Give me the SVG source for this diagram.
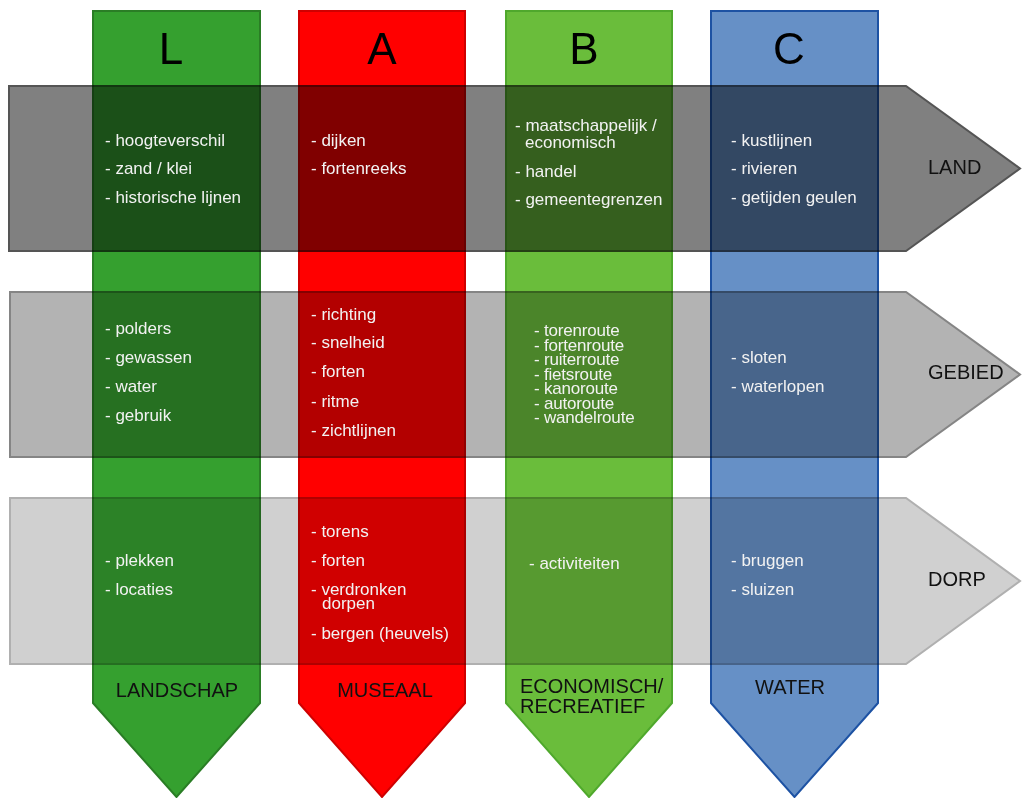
<svg xmlns="http://www.w3.org/2000/svg" width="1022" height="798" viewBox="0 0 1022 798">
<style>
.row{mix-blend-mode:multiply;stroke-width:2;stroke-linejoin:miter}
.col{stroke-width:2}
.t{font-family:"Liberation Sans",Arial,sans-serif;font-size:17px;fill:#f2f2f2}
.tt{font-family:"Liberation Sans",Arial,sans-serif;font-size:17px;fill:#f2f2f2;letter-spacing:-0.2px}
.lab{font-family:"Liberation Sans",Arial,sans-serif;font-size:20px;fill:#111}
.hd{font-family:"Liberation Sans",Arial,sans-serif;font-size:44px;fill:#000;text-anchor:middle}
</style>
<rect width="1022" height="798" fill="#ffffff"/>
<g id="col-L"><path class="col" d="M93,11 H260 V703 L176.5,797 L93,703 Z" fill="#35a02f" stroke="#2a7d25"/></g>
<g id="col-A"><path class="col" d="M299,11 H465 V703 L382,797 L299,703 Z" fill="#ff0000" stroke="#cf0000"/></g>
<g id="col-B"><path class="col" d="M506,11 H672 V703 L589,797 L506,703 Z" fill="#6abd3b" stroke="#4fa82c"/></g>
<g id="col-C"><path class="col" d="M711,11 H878 V703 L794.5,797 L711,703 Z" fill="#6690c6" stroke="#1d52a3"/></g>
<g id="row-LAND"><path class="row" d="M9,86 H906 L1020,168.5 L906,251 H9 Z" fill="#808080" stroke="#555555"/></g>
<g id="row-GEBIED"><path class="row" d="M10,292 H906 L1020,374.5 L906,457 H10 Z" fill="#b3b3b3" stroke="#858585"/></g>
<g id="row-DORP"><path class="row" d="M10,498 H906 L1020,581 L906,664 H10 Z" fill="#d0d0d0" stroke="#b0b0b0"/></g>
<g id="headers">
<text class="hd" x="171" y="64">L</text>
<text class="hd" x="382" y="64">A</text>
<text class="hd" x="584" y="64">B</text>
<text class="hd" x="789" y="64">C</text>
</g>
<g id="row-labels">
<text class="lab" x="928" y="174">LAND</text>
<text class="lab" x="928" y="379">GEBIED</text>
<text class="lab" x="928" y="586">DORP</text>
</g>
<g id="col-labels">
<text class="lab" x="177" y="697" text-anchor="middle">LANDSCHAP</text>
<text class="lab" x="385" y="697" text-anchor="middle">MUSEAAL</text>
<text class="lab" x="520" y="693">ECONOMISCH/<tspan x="520" dy="20">RECREATIEF</tspan></text>
<text class="lab" x="790" y="694" text-anchor="middle">WATER</text>
</g>
<g id="cell-L-LAND">
<text class="t" x="105" y="146">- hoogteverschil</text>
<text class="t" x="105" y="174">- zand / klei</text>
<text class="t" x="105" y="203">- historische lijnen</text>
</g>
<g id="cell-A-LAND">
<text class="t" x="311" y="146">- dijken</text>
<text class="t" x="311" y="174">- fortenreeks</text>
</g>
<g id="cell-B-LAND">
<text class="t" x="515" y="131">- maatschappelijk /<tspan x="525" dy="17">economisch</tspan></text>
<text class="t" x="515" y="177">- handel</text>
<text class="t" x="515" y="205">- gemeentegrenzen</text>
</g>
<g id="cell-C-LAND">
<text class="t" x="731" y="146">- kustlijnen</text>
<text class="t" x="731" y="174">- rivieren</text>
<text class="t" x="731" y="203">- getijden geulen</text>
</g>
<g id="cell-L-GEBIED">
<text class="t" x="105" y="334">- polders</text>
<text class="t" x="105" y="363">- gewassen</text>
<text class="t" x="105" y="392">- water</text>
<text class="t" x="105" y="421">- gebruik</text>
</g>
<g id="cell-A-GEBIED">
<text class="t" x="311" y="320">- richting</text>
<text class="t" x="311" y="348">- snelheid</text>
<text class="t" x="311" y="377">- forten</text>
<text class="t" x="311" y="407">- ritme</text>
<text class="t" x="311" y="436">- zichtlijnen</text>
</g>
<g id="cell-B-GEBIED">
<text class="tt" x="534" y="336">- torenroute<tspan x="534" dy="14.5">- fortenroute</tspan><tspan x="534" dy="14.5">- ruiterroute</tspan><tspan x="534" dy="14.5">- fietsroute</tspan><tspan x="534" dy="14.5">- kanoroute</tspan><tspan x="534" dy="14.5">- autoroute</tspan><tspan x="534" dy="14.5">- wandelroute</tspan></text>
</g>
<g id="cell-C-GEBIED">
<text class="t" x="731" y="363">- sloten</text>
<text class="t" x="731" y="392">- waterlopen</text>
</g>
<g id="cell-L-DORP">
<text class="t" x="105" y="566">- plekken</text>
<text class="t" x="105" y="595">- locaties</text>
</g>
<g id="cell-A-DORP">
<text class="t" x="311" y="537">- torens</text>
<text class="t" x="311" y="566">- forten</text>
<text class="t" x="311" y="595">- verdronken<tspan x="322" dy="14">dorpen</tspan></text>
<text class="t" x="311" y="639">- bergen (heuvels)</text>
</g>
<g id="cell-B-DORP">
<text class="t" x="529" y="569">- activiteiten</text>
</g>
<g id="cell-C-DORP">
<text class="t" x="731" y="566">- bruggen</text>
<text class="t" x="731" y="595">- sluizen</text>
</g>
</svg>
